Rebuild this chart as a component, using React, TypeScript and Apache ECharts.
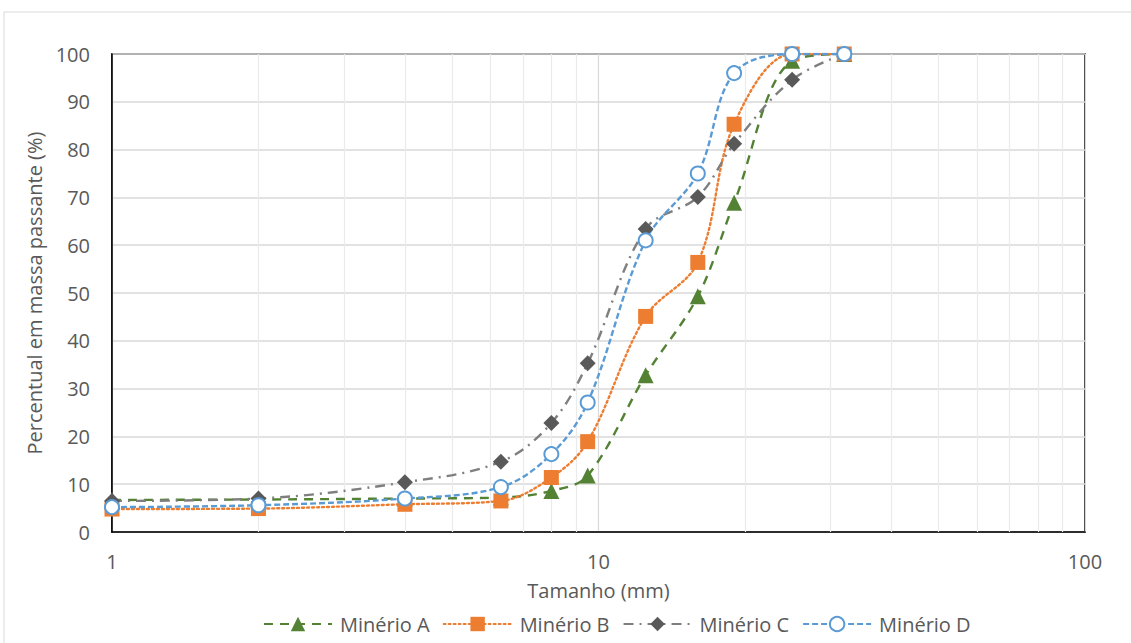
import React, { useEffect, useRef } from "react";
import * as echarts from "echarts";

const sizes = [1, 2, 4, 6.3, 8, 9.5, 12.5, 16, 19, 25, 32];
const minerioA = [6.7, 6.8, 7.0, 7.2, 8.6, 11.8, 32.8, 49.3, 68.9, 98.6, 100];
const minerioB = [4.8, 4.9, 5.8, 6.5, 11.4, 18.9, 45.1, 56.4, 85.3, 100, 100];
const minerioC = [6.5, 7.0, 10.4, 14.7, 22.8, 35.3, 63.4, 70.1, 81.2, 94.6, 100];
const minerioD = [5.2, 5.6, 7.0, 9.4, 16.3, 27.1, 61.0, 75.0, 96.0, 100, 100];
const minorGrid = [2, 3, 4, 5, 6, 7, 8, 9, 20, 30, 40, 50, 60, 70, 80, 90];

const FONT = "'Open Sans', sans-serif";
const TXT = "#595959";

function pairs(vals: number[]) {
  return sizes.map((s, i) => [s, vals[i]]);
}

export default function App() {
  const ref = useRef<HTMLDivElement>(null);
  useEffect(() => {
    if (!ref.current) return;
    const chart = echarts.init(ref.current, null, { renderer: "svg" });
    const smooth = 0.35;
    chart.setOption({
      animation: false,
      backgroundColor: "#fff",
      textStyle: { fontFamily: FONT },
      graphic: [
        {
          type: "rect",
          shape: { x: 4, y: 12, width: 1140, height: 640 },
          style: { fill: "none", stroke: "#d9d9d9", lineWidth: 1 },
          silent: true,
          z: -10,
        },
      ],
      grid: {
        left: 112,
        top: 54,
        right: 46,
        bottom: 111,
        show: true,
        borderColor: "#000",
        borderWidth: 1.5,
        backgroundColor: "transparent",
      },
      legend: {
        top: 609,
        left: 258,
        itemWidth: 68,
        itemHeight: 18,
        itemGap: 13,
        textStyle: { fontSize: 20, color: TXT, fontFamily: FONT, padding: [0, 0, 0, 3] },
        data: ["Minério A", "Minério B", "Minério C", "Minério D"],
      },
      xAxis: {
        type: "log",
        logBase: 10,
        min: 1,
        max: 100,
        name: "Tamanho (mm)",
        nameLocation: "middle",
        nameGap: 48,
        nameTextStyle: { fontSize: 20, color: TXT, fontFamily: FONT },
        axisLine: { show: true, lineStyle: { color: "#000", width: 1.5 } },
        axisTick: { show: false },
        axisLabel: { fontSize: 20, color: TXT, margin: 19, fontFamily: FONT },
        splitLine: { show: true, lineStyle: { color: "#d9d9d9", width: 1.2 } },
      },
      yAxis: {
        type: "value",
        min: 0,
        max: 100,
        interval: 10,
        name: "Percentual em massa passante (%)",
        nameLocation: "middle",
        nameGap: 68,
        nameTextStyle: { fontSize: 20, color: TXT, fontFamily: FONT },
        axisLine: { show: true, lineStyle: { color: "#000", width: 1.5 } },
        axisTick: { show: false },
        axisLabel: { fontSize: 20, color: TXT, margin: 22, fontFamily: FONT },
        splitLine: { show: true, lineStyle: { color: "#d9d9d9", width: 1.5 } },
      },
      series: [
        {
          name: "Minério A",
          type: "line",
          data: pairs(minerioA),
          smooth,
          symbol: "triangle",
          symbolSize: 16,
          color: "#548235",
          itemStyle: { color: "#548235" },
          lineStyle: { color: "#548235", width: 2.4, type: [9, 7] },
          markLine: {
            silent: true,
            symbol: "none",
            z: 1,
            label: { show: false },
            lineStyle: { color: "#ebebeb", width: 1.2, type: "solid" },
            data: minorGrid.map((v) => ({ xAxis: v })),
          },
        },
        {
          name: "Minério B",
          type: "line",
          data: pairs(minerioB),
          smooth,
          symbol: "rect",
          symbolSize: 15,
          color: "#ED7D31",
          itemStyle: { color: "#ED7D31" },
          lineStyle: { color: "#ED7D31", width: 2.4, type: [2, 3], cap: "round" },
        },
        {
          name: "Minério C",
          type: "line",
          data: pairs(minerioC),
          smooth,
          symbol: "diamond",
          symbolSize: 16,
          color: "#595959",
          itemStyle: { color: "#595959" },
          lineStyle: { color: "#7f7f7f", width: 2.4, type: [10, 6, 2, 6] },
        },
        {
          name: "Minério D",
          type: "line",
          data: pairs(minerioD),
          smooth,
          symbol: "circle",
          symbolSize: 14,
          color: "#5B9BD5",
          itemStyle: { color: "#fff", borderColor: "#5B9BD5", borderWidth: 2 },
          lineStyle: { color: "#5B9BD5", width: 2.4, type: [6, 3] },
        },
      ],
    });
    return () => chart.dispose();
  }, []);
  return (
    <div
      ref={ref}
      style={{ position: "fixed", left: 0, top: 0, width: 1131, height: 643 }}
    />
  );
}
